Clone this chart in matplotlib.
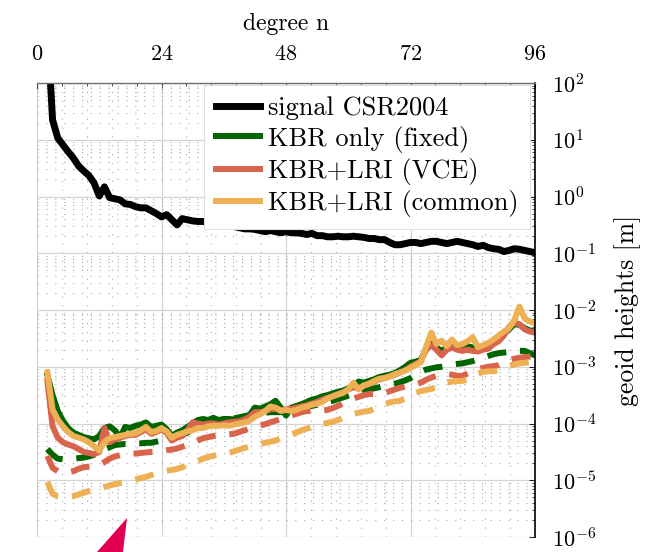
import numpy as np
import matplotlib
matplotlib.use("Agg")
import matplotlib.pyplot as plt
from matplotlib.ticker import AutoMinorLocator, LogLocator, FixedLocator
from matplotlib.patches import Polygon

plt.rcParams['font.family'] = 'serif'
plt.rcParams['font.serif'] = ['cmr10']
plt.rcParams['mathtext.fontset'] = 'cm'
plt.rcParams['axes.formatter.use_mathtext'] = True
plt.rcParams['axes.unicode_minus'] = False

# spherical harmonic degree
degree = np.arange(2, 97)

# degree amplitudes, given as log10 of geoid height in metres
signal_log10 = [
    3.00, 1.35, 1.03, 0.91, 0.79, 0.68, 0.54, 0.45, 0.37, 0.24,
    0.01, 0.17, -0.02, -0.04, -0.06, -0.13, -0.14, -0.18, -0.20, -0.20,
    -0.25, -0.30, -0.36, -0.32, -0.41, -0.50, -0.39, -0.41, -0.43, -0.44,
    -0.44, -0.46, -0.48, -0.50, -0.48, -0.51, -0.53, -0.55, -0.57, -0.57,
    -0.58, -0.60, -0.62, -0.60, -0.62, -0.64, -0.62, -0.64, -0.64, -0.65,
    -0.67, -0.65, -0.69, -0.69, -0.71, -0.71, -0.70, -0.71, -0.71, -0.70,
    -0.71, -0.72, -0.74, -0.74, -0.76, -0.76, -0.81, -0.85, -0.85, -0.83,
    -0.81, -0.81, -0.83, -0.81, -0.79, -0.79, -0.81, -0.83, -0.81, -0.79,
    -0.81, -0.83, -0.85, -0.88, -0.86, -0.90, -0.92, -0.93, -0.97, -0.95,
    -0.92, -0.93, -0.95, -0.97, -0.99,
]

kbr_log10 = [
    -3.15, -3.50, -3.78, -3.95, -4.08, -4.16, -4.20, -4.24, -4.26, -4.28,
    -4.22, -4.08, -4.05, -4.12, -4.25, -4.06, -4.08, -4.04, -4.02, -3.98,
    -4.06, -4.04, -4.02, -4.10, -4.22, -4.16, -4.12, -4.06, -4.00, -3.94,
    -3.92, -3.94, -3.90, -3.94, -3.92, -3.92, -3.93, -3.92, -3.90, -3.85,
    -3.72, -3.74, -3.70, -3.66, -3.60, -3.72, -3.86, -3.72, -3.69, -3.66,
    -3.62, -3.58, -3.56, -3.52, -3.50, -3.47, -3.44, -3.42, -3.38, -3.34,
    -3.26, -3.28, -3.25, -3.22, -3.18, -3.16, -3.14, -3.11, -3.06, -3.00,
    -2.93, -2.91, -2.88, -2.68, -2.58, -2.66, -2.72, -2.66, -2.62, -2.66,
    -2.66, -2.64, -2.66, -2.68, -2.66, -2.62, -2.56, -2.50, -2.40, -2.34,
    -2.25, -2.26, -2.32, -2.36, -2.38,
]

vce_log10 = [
    -3.25, -4.05, -4.25, -4.33, -4.37, -4.40, -4.45, -4.50, -4.52, -4.54,
    -4.50, -4.08, -4.33, -4.28, -4.25, -4.22, -4.20, -4.20, -4.15, -4.10,
    -4.18, -4.15, -4.10, -4.17, -4.30, -4.25, -4.22, -4.12, -3.98, -4.00,
    -4.02, -4.00, -4.00, -4.02, -4.00, -3.98, -3.97, -3.96, -3.93, -3.88,
    -3.80, -3.80, -3.78, -3.75, -3.74, -3.76, -3.75, -3.74, -3.72, -3.70,
    -3.68, -3.65, -3.62, -3.58, -3.55, -3.52, -3.48, -3.45, -3.40, -3.36,
    -3.38, -3.33, -3.30, -3.26, -3.22, -3.20, -3.17, -3.14, -3.10, -3.06,
    -3.00, -2.95, -2.90, -2.70, -2.62, -2.70, -2.80, -2.70, -2.66, -2.70,
    -2.72, -2.70, -2.72, -2.73, -2.70, -2.68, -2.60, -2.55, -2.45, -2.30,
    -2.22, -2.25, -2.34, -2.38, -2.40,
]

common_log10 = [
    -3.10, -3.75, -3.93, -4.05, -4.15, -4.22, -4.25, -4.28, -4.33, -4.40,
    -4.48, -4.32, -4.26, -4.24, -4.22, -4.20, -4.18, -4.17, -4.12, -4.06,
    -4.15, -4.13, -4.08, -4.14, -4.25, -4.20, -4.17, -4.14, -4.12, -4.08,
    -4.08, -4.05, -4.04, -4.04, -4.03, -4.04, -4.02, -4.00, -3.98, -3.95,
    -3.88, -3.84, -3.78, -3.70, -3.72, -3.78, -3.76, -3.78, -3.76, -3.72,
    -3.70, -3.67, -3.65, -3.62, -3.56, -3.52, -3.49, -3.46, -3.40, -3.28,
    -3.40, -3.33, -3.30, -3.25, -3.21, -3.20, -3.17, -3.13, -3.10, -3.07,
    -3.02, -2.97, -2.92, -2.65, -2.40, -2.60, -2.54, -2.64, -2.52, -2.62,
    -2.60, -2.55, -2.48, -2.66, -2.62, -2.58, -2.52, -2.45, -2.38, -2.32,
    -2.18, -1.94, -2.15, -2.20, -2.24,
]

# formal errors (dashed)
kbr_formal_log10 = [
    -4.45, -4.55, -4.62, -4.63, -4.63, -4.62, -4.61, -4.60, -4.58, -4.55,
    -4.50, -4.45, -4.42, -4.38, -4.37, -4.36, -4.36, -4.35, -4.35, -4.34,
    -4.34, -4.32, -4.30, -4.28, -4.26, -4.23, -4.20, -4.16, -4.12, -4.09,
    -4.05, -4.02, -3.99, -3.96, -3.95, -3.93, -3.91, -3.89, -3.87, -3.85,
    -3.83, -3.82, -3.81, -3.80, -3.80, -3.80, -3.79, -3.77, -3.75, -3.73,
    -3.71, -3.69, -3.67, -3.65, -3.62, -3.60, -3.57, -3.54, -3.51, -3.48,
    -3.45, -3.42, -3.40, -3.38, -3.36, -3.34, -3.32, -3.30, -3.27, -3.24,
    -3.20, -3.14, -3.09, -3.05, -3.03, -3.01, -3.00, -2.98, -2.96, -2.95,
    -2.94, -2.92, -2.90, -2.87, -2.84, -2.81, -2.78, -2.76, -2.75, -2.74,
    -2.73, -2.72, -2.72, -2.76, -2.80,
]

vce_formal_log10 = [
    -4.57, -4.78, -4.84, -4.86, -4.86, -4.84, -4.80, -4.77, -4.76, -4.75,
    -4.73, -4.68, -4.62, -4.58, -4.56, -4.55, -4.54, -4.53, -4.52, -4.51,
    -4.50, -4.50, -4.49, -4.47, -4.46, -4.44, -4.41, -4.38, -4.35, -4.30,
    -4.26, -4.24, -4.22, -4.21, -4.20, -4.19, -4.18, -4.15, -4.12, -4.09,
    -4.06, -4.04, -4.01, -3.98, -3.95, -3.92, -3.89, -3.86, -3.83, -3.80,
    -3.78, -3.78, -3.78, -3.77, -3.76, -3.73, -3.69, -3.65, -3.60, -3.56,
    -3.53, -3.50, -3.48, -3.48, -3.48, -3.47, -3.43, -3.40, -3.37, -3.35,
    -3.33, -3.31, -3.28, -3.23, -3.19, -3.16, -3.14, -3.13, -3.14, -3.16,
    -3.16, -3.12, -3.08, -3.04, -3.02, -3.00, -2.99, -2.97, -2.93, -2.88,
    -2.86, -2.84, -2.83, -2.82, -2.81,
]

common_formal_log10 = [
    -5.03, -5.24, -5.28, -5.29, -5.29, -5.28, -5.25, -5.22, -5.19, -5.17,
    -5.15, -5.12, -5.09, -5.07, -5.05, -5.04, -5.02, -4.99, -4.96, -4.94,
    -4.91, -4.88, -4.85, -4.83, -4.82, -4.80, -4.77, -4.73, -4.69, -4.66,
    -4.62, -4.59, -4.57, -4.55, -4.54, -4.52, -4.49, -4.46, -4.43, -4.41,
    -4.38, -4.36, -4.34, -4.32, -4.30, -4.26, -4.22, -4.19, -4.16, -4.12,
    -4.09, -4.06, -4.03, -4.01, -3.99, -3.97, -3.94, -3.90, -3.86, -3.83,
    -3.81, -3.79, -3.78, -3.74, -3.70, -3.66, -3.63, -3.61, -3.60, -3.56,
    -3.51, -3.46, -3.43, -3.41, -3.39, -3.36, -3.32, -3.28, -3.26, -3.25,
    -3.25, -3.22, -3.17, -3.12, -3.09, -3.08, -3.08, -3.06, -3.02, -2.98,
    -2.96, -2.94, -2.93, -2.92, -2.91,
]

labels = ['signal CSR2004', 'KBR only (fixed)', 'KBR+LRI (VCE)', 'KBR+LRI (common)']
green = '#006400'
red = '#d9644c'
orange = '#eeb054'

fig = plt.figure(figsize=(6.48, 5.52), dpi=100)
ax = fig.add_axes([37 / 648, 1 - 537 / 552, 498 / 648, 454 / 552])

ax.set_yscale('log')

dash = dict(linestyle=(0, (3.2, 2.3)), lw=4.3, dash_capstyle='butt')
ax.plot(degree, 10 ** np.array(kbr_formal_log10), color=green, **dash)
ax.plot(degree, 10 ** np.array(vce_formal_log10), color=red, **dash)
ax.plot(degree, 10 ** np.array(common_formal_log10), color=orange, **dash)

ax.plot(degree, 10 ** np.array(signal_log10), color='black', lw=5.0, label=labels[0])
ax.plot(degree, 10 ** np.array(kbr_log10), color=green, lw=4.3, label=labels[1])
ax.plot(degree, 10 ** np.array(vce_log10), color=red, lw=4.3, label=labels[2])
ax.plot(degree, 10 ** np.array(common_log10), color=orange, lw=4.3, label=labels[3])

ax.set_xlim(0, 96)
ax.set_ylim(1e-6, 1e2)
ax.xaxis.set_major_locator(FixedLocator([0, 24, 48, 72, 96]))
ax.xaxis.set_minor_locator(AutoMinorLocator(5))
ax.yaxis.set_major_locator(LogLocator(base=10, numticks=20))
ax.yaxis.set_minor_locator(LogLocator(base=10, subs=np.arange(2, 10), numticks=20))

ax.xaxis.tick_top()
ax.xaxis.set_label_position('top')
ax.yaxis.tick_right()
ax.yaxis.set_label_position('right')
ax.tick_params(which='both', direction='in', labelsize=16)
ax.tick_params(which='major', length=4, width=0.6)
ax.tick_params(which='minor', length=2, width=0.5)
ax.tick_params(axis='x', pad=14)
ax.tick_params(axis='y', pad=12)

ax.set_xlabel('degree n', fontsize=17, labelpad=10)
ax.set_ylabel('geoid heights [m]', fontsize=18.5, labelpad=13)

ax.grid(which='major', color='#d4d4d4', lw=0.9, linestyle='-')
ax.grid(which='minor', color='#a8a8a8', lw=0.8, linestyle=(0, (1, 7)))
ax.set_axisbelow(True)

ax.spines['left'].set_visible(False)
ax.spines['bottom'].set_visible(False)
ax.spines['top'].set_color('#6e6e6e')
ax.spines['top'].set_linewidth(1.0)
ax.spines['right'].set_color('black')
ax.spines['right'].set_linewidth(1.2)

leg = ax.legend(loc='upper right', bbox_to_anchor=(0.99, 0.996), borderaxespad=0,
                fontsize=19, handlelength=1.7, handletextpad=0.27, labelspacing=0.2,
                borderpad=0.45, fancybox=False, framealpha=1)
leg.get_frame().set_edgecolor('#e0e0e0')
leg.get_frame().set_linewidth(0.8)

# arrow head pointing into the plot from below
W, H = 648, 552
arrow = Polygon([(127 / W, 1 - 518 / H), (90 / W, 1 - 560 / H), (122 / W, 1 - 560 / H)],
                closed=True, transform=fig.transFigure, facecolor='#e0004f',
                edgecolor='none', clip_on=False)
fig.patches.append(arrow)

fig.savefig('out.png', dpi=100)
